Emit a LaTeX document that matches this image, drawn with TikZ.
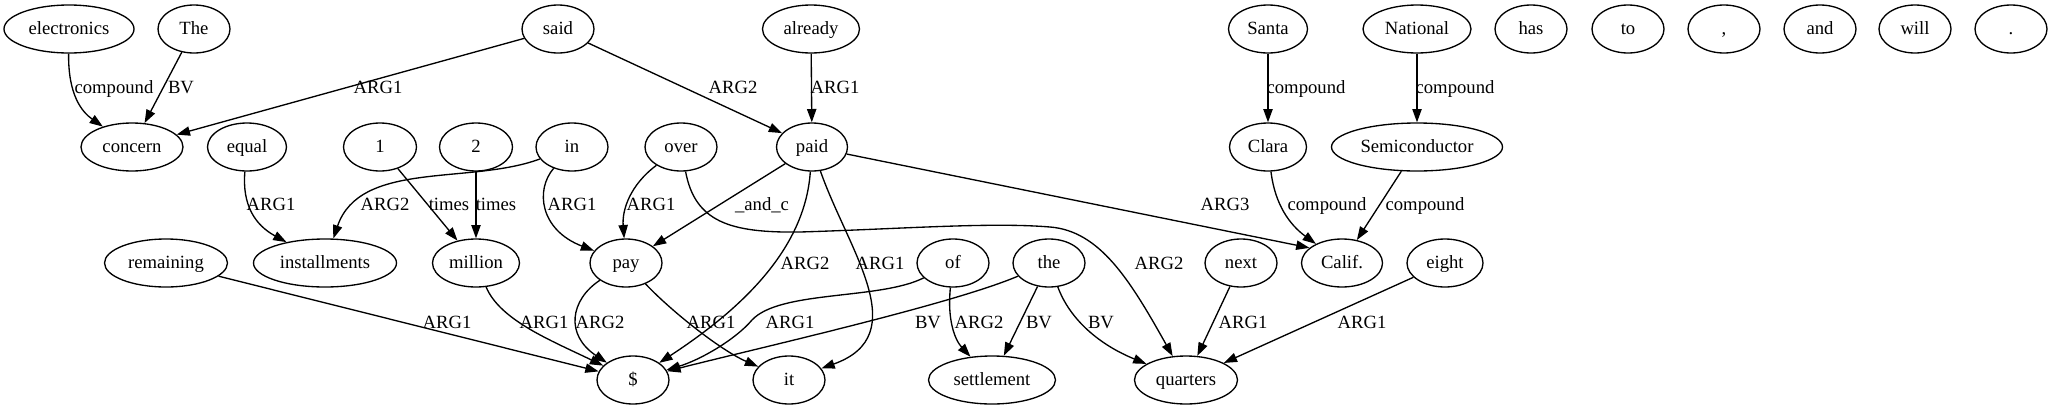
\documentclass[tikz,border=0pt]{standalone}
\usepackage{fontspec}
\setmainfont{Liberation Serif}
\usetikzlibrary{shapes.geometric,arrows.meta}
\tikzset{
  nd/.style={ellipse, draw, line width=1pt, inner sep=0pt, minimum height=36pt,
    minimum width=#1*0.75pt, font=\fontsize{14}{16}\selectfont, text height=11pt, text depth=3pt},
  nd/.default=72,
  lbl/.style={anchor=base, inner sep=0pt, font=\fontsize{14}{16}\selectfont},
  edge/.style={line width=1pt, -{Triangle[length=10pt,width=7pt]}}
}
\begin{document}
\begin{tikzpicture}[x=0.75pt,y=-0.75pt]
\useasboundingbox (0,0) rectangle (2053,411);
% rank 0
\node[nd=130] (electronics) at (69,29) {electronics};
\node[nd] (The) at (194,29) {The};
\node[nd] (said) at (558,29) {said};
\node[nd=97] (already) at (811,29) {already};
\node[nd=79] (Santa) at (1268,29) {Santa};
\node[nd=108] (National) at (1417,29) {National};
\node[nd] (has) at (1531,29) {has};
\node[nd] (to) at (1628,29) {to};
\node[nd] (comma) at (1724,29) {,};
\node[nd] (and) at (1820,29) {and};
\node[nd] (will) at (1915,29) {will};
\node[nd] (period) at (2011,29) {.};
% rank 1
\node[nd=102] (concern) at (132,147) {concern};
\node[nd=79] (equal) at (247,147) {equal};
\node[nd=73] (one) at (380,147) {1};
\node[nd=73] (two) at (476,147) {2};
\node[nd] (in) at (572,147) {in};
\node[nd] (over) at (681,147) {over};
\node[nd=71] (paid) at (812,147) {paid};
\node[nd=77] (Clara) at (1268,147) {Clara};
\node[nd=171] (Semiconductor) at (1417,147) {Semiconductor};
% rank 2
\node[nd=123] (remaining) at (166,263) {remaining};
\node[nd=143] (installments) at (325,263) {installments};
\node[nd=87] (million) at (476,263) {million};
\node[nd] (pay) at (626,263) {pay};
\node[nd] (of) at (953,263) {of};
\node[nd] (the) at (1049,263) {the};
\node[nd] (next) at (1241,263) {next};
\node[nd=81] (Calif) at (1342,263) {Calif.};
\node[nd=76] (eight) at (1445,263) {eight};
% rank 3
\node[nd] (dollar) at (633,380) {\$};
\node[nd] (it) at (789,380) {it};
\node[nd=127] (settlement) at (992,380) {settlement};
\node[nd=103] (quarters) at (1186,380) {quarters};

% edges
\draw[edge] (electronics) .. controls (68,95) and (82,112) .. (concern);
\draw[edge] (The) -- (concern);
\draw[edge] (said) -- (concern);
\draw[edge] (said) -- (paid);
\draw[edge] (already) -- (paid);
\draw[edge] (Santa) -- (Clara);
\draw[edge] (National) -- (Semiconductor);
\draw[edge] (equal) .. controls (242,205) and (255,225) .. (installments);
\draw[edge] (in) .. controls (470,185) and (360,160) .. (installments);
\draw[edge] (one) -- (million);
\draw[edge] (two) -- (million);
\draw[edge] (in) .. controls (535,190) and (540,230) .. (pay);
\draw[edge] (over) .. controls (630,185) and (622,210) .. (pay);
\draw[edge] (paid) -- (pay);
\draw[edge] (over) .. controls (695,222) and (730,233) .. (800,232)
  .. controls (900,229) and (990,222) .. (1050,227)
  .. controls (1100,231) and (1130,280) .. (quarters);
\draw[edge] (paid) .. controls (805,250) and (740,310) .. (dollar);
\draw[edge] (paid) .. controls (848,250) and (915,335) .. (it);
\draw[edge] (paid) -- (Calif.155);
\draw[edge] (Clara) .. controls (1275,205) and (1290,225) .. (Calif);
\draw[edge] (Semiconductor) -- (Calif);
\draw[edge] (remaining) -- (dollar);
\draw[edge] (million) .. controls (500,320) and (550,340) .. (dollar);
\draw[edge] (pay) .. controls (570,300) and (565,335) .. (dollar);
\draw[edge] (pay) .. controls (670,310) and (720,350) .. (it);
\draw[edge] (of) .. controls (880,300) and (780,290) .. (752,320)
  .. controls (735,340) and (700,360) .. (dollar);
\draw[edge] (the) .. controls (950,305) and (750,350) .. (dollar);
\draw[edge] (of) .. controls (947,320) and (955,340) .. (settlement);
\draw[edge] (the) -- (settlement);
\draw[edge] (the) .. controls (1070,320) and (1100,345) .. (quarters);
\draw[edge] (next) -- (quarters);
\draw[edge] (eight) -- (quarters);

% labels
\node[lbl] (l1) at (114,93) {compound};
\node[lbl] (l2) at (181,93) {BV};
\node[lbl] (l3) at (378,93) {ARG1};
\node[lbl] (l4) at (733,93) {ARG2};
\node[lbl] (l5) at (835,93) {ARG1};
\node[lbl] (l6) at (1306,93) {compound};
\node[lbl] (l7) at (1455,93) {compound};
\node[lbl] (l8) at (271,210) {ARG1};
\node[lbl] (l9) at (385,210) {ARG2};
\node[lbl] (l10) at (449,210) {times};
\node[lbl] (l11) at (496,210) {times};
\node[lbl] (l12) at (572,210) {ARG1};
\node[lbl] (l13) at (651,210) {ARG1};
\node[lbl] (l14) at (762,210) {\_and\_c};
\node[lbl] (l15) at (1225,210) {ARG3};
\node[lbl] (l16) at (1327,210) {compound};
\node[lbl] (l17) at (1425,210) {compound};
\node[lbl] (l18) at (805,269) {ARG2};
\node[lbl] (l19) at (880,269) {ARG1};
\node[lbl] (l20) at (1159,269) {ARG2};
\node[lbl] (l21) at (447,328) {ARG1};
\node[lbl] (l22) at (544,328) {ARG1};
\node[lbl] (l23) at (600,328) {ARG2};
\node[lbl] (l24) at (711,328) {ARG1};
\node[lbl] (l25) at (790,328) {ARG1};
\node[lbl] (l26) at (928,328) {BV};
\node[lbl] (l27) at (979,328) {ARG2};
\node[lbl] (l28) at (1039,328) {BV};
\node[lbl] (l29) at (1101,328) {BV};
\node[lbl] (l30) at (1243,328) {ARG1};
\node[lbl] (l31) at (1362,328) {ARG1};
\end{tikzpicture}
\end{document}
